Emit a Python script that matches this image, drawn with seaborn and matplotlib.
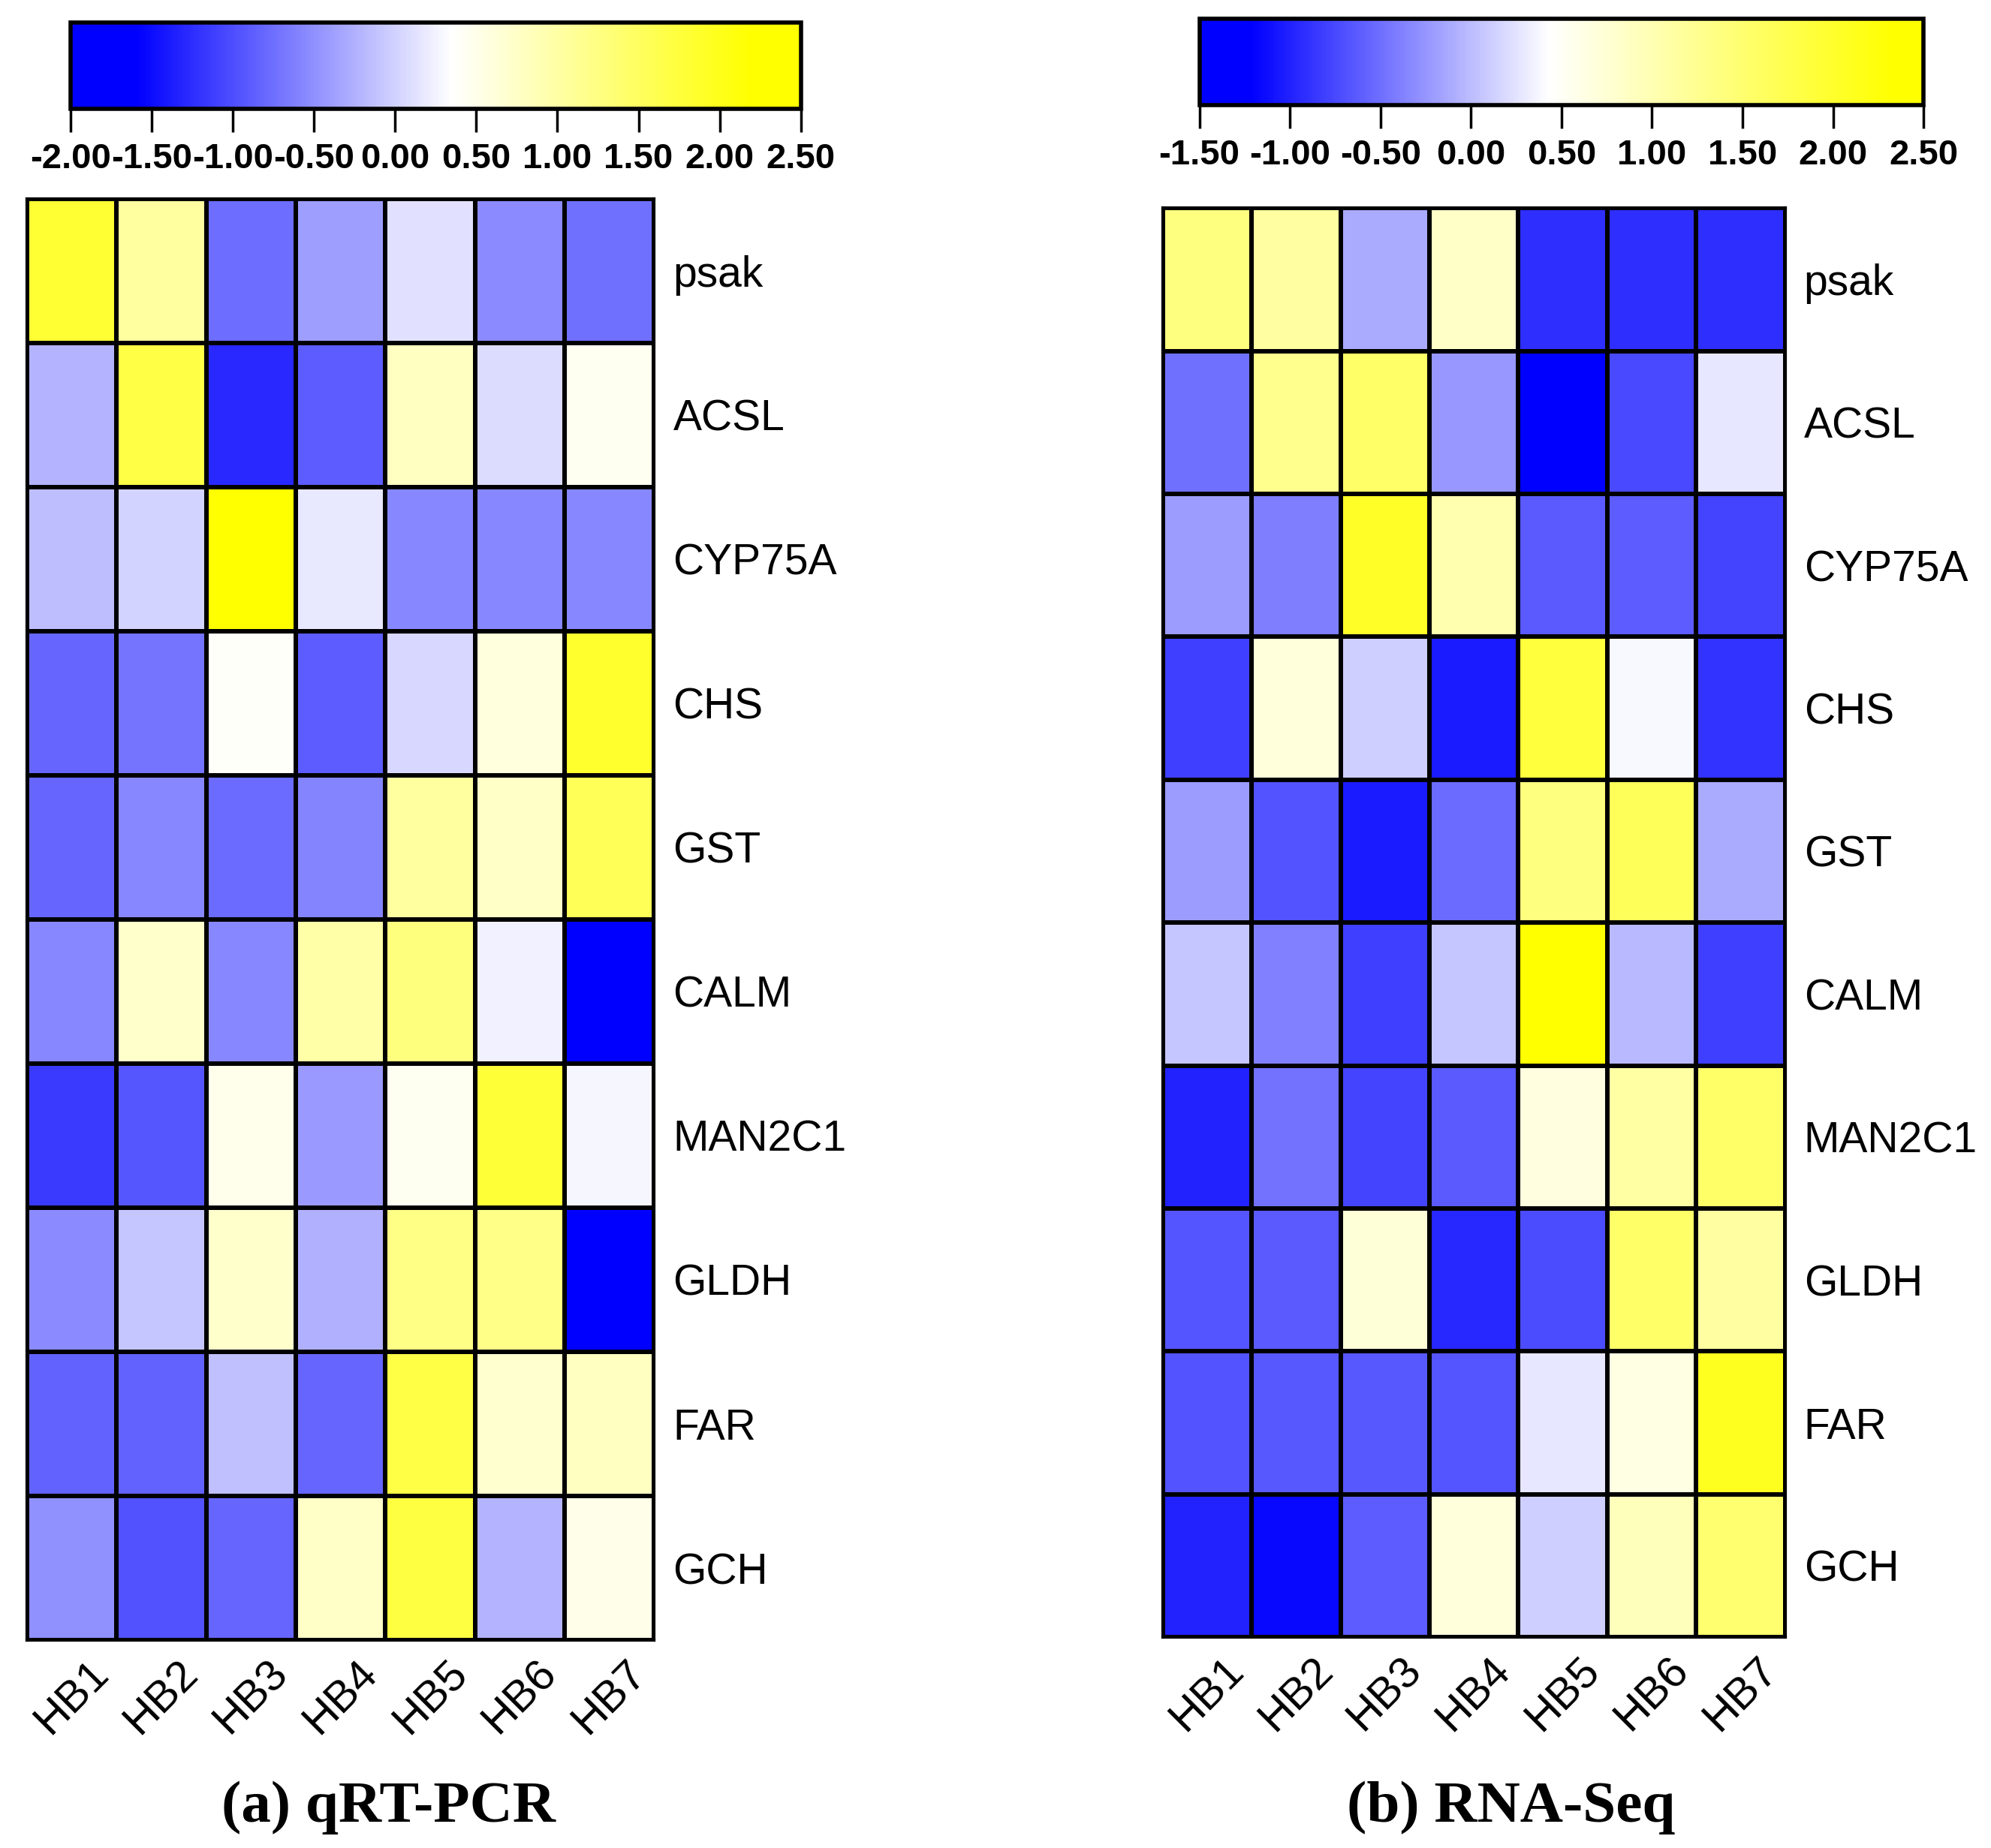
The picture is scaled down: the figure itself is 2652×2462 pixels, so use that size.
import numpy as np
import pandas as pd
import matplotlib
matplotlib.use("Agg")
import matplotlib.pyplot as plt
from matplotlib.colors import LinearSegmentedColormap
import seaborn as sns

genes = ["psak", "ACSL", "CYP75A", "CHS", "GST", "CALM", "MAN2C1", "GLDH", "FAR", "GCH"]
samples = ["HB1", "HB2", "HB3", "HB4", "HB5", "HB6", "HB7"]

# values (relative expression)
qpcr_values = [
    [1.83, 1.04, -0.76, -0.40, 0.11, -0.54, -0.74],
    [-0.23, 1.68, -1.29, -0.88, 0.78, 0.08, 0.46],
    [-0.15, 0.01, 2.30, 0.17, -0.56, -0.57, -0.56],
    [-0.82, -0.71, 0.39, -0.88, 0.04, 0.60, 1.85],
    [-0.82, -0.56, -0.77, -0.58, 1.04, 0.75, 1.56],
    [-0.56, 0.72, -0.56, 0.98, 1.27, 0.24, -1.80],
    [-1.14, -0.93, 0.48, -0.42, 0.45, 1.79, 0.27],
    [-0.54, -0.10, 0.72, -0.25, 1.22, 1.21, -1.80],
    [-0.85, -0.85, -0.13, -0.82, 1.68, 0.70, 0.78],
    [-0.50, -0.97, -0.82, 0.75, 1.71, -0.23, 0.50],
]
rnaseq_values = [
    [1.39, 1.14, -0.12, 0.85, -0.91, -0.92, -0.92],
    [-0.50, 1.27, 1.56, -0.25, -1.35, -0.75, 0.28],
    [-0.21, -0.40, 2.04, 1.02, -0.64, -0.61, -0.78],
    [-0.81, 0.70, 0.11, -1.04, 1.86, 0.38, -0.88],
    [-0.21, -0.68, -1.04, -0.52, 1.39, 1.67, -0.12],
    [0.05, -0.38, -0.81, 0.05, 2.40, -0.03, -0.81],
    [-1.00, -0.48, -0.78, -0.64, 0.66, 1.12, 1.56],
    [-0.66, -0.64, 0.72, -0.96, -0.72, 1.56, 1.14],
    [-0.68, -0.65, -0.65, -0.66, 0.28, 0.64, 2.10],
    [-1.00, -1.17, -0.61, 0.70, 0.11, 0.93, 1.50],
]

qpcr_ticks = [-2.0, -1.5, -1.0, -0.5, 0.0, 0.5, 1.0, 1.5, 2.0, 2.5]
rnaseq_ticks = [-1.5, -1.0, -0.5, 0.0, 0.5, 1.0, 1.5, 2.0, 2.5]

qpcr_cmap = LinearSegmentedColormap.from_list(
    "qpcr", [(0.0, "#0000ff"), (0.089, "#0000ff"), (0.522, "#ffffff"),
             (0.933, "#ffff00"), (1.0, "#ffff00")])
rnaseq_cmap = LinearSegmentedColormap.from_list(
    "rnaseq", [(0.0, "#0000ff"), (0.07, "#0000ff"), (0.4825, "#ffffff"),
               (0.96, "#ffff00"), (1.0, "#ffff00")])

plt.rcParams["font.family"] = ["Liberation Sans", "DejaVu Sans"]

fig = plt.figure(figsize=(26.52, 24.62), dpi=100)


def draw_panel(values, cmap, vmin, vmax, ticks, hm_rect, cb_rect, caption, cap_x):
    df = pd.DataFrame(values, index=genes, columns=samples)
    ax = fig.add_axes(hm_rect)
    cax = fig.add_axes(cb_rect)
    sns.heatmap(df, ax=ax, cmap=cmap, vmin=vmin, vmax=vmax,
                linewidths=3, linecolor="black", cbar_ax=cax,
                cbar_kws={"orientation": "horizontal", "ticks": ticks, "format": "%.2f"})
    for sp in ax.spines.values():
        sp.set_visible(True)
        sp.set_linewidth(3)
        sp.set_color("black")
    ax.yaxis.tick_right()
    ax.tick_params(axis="y", length=0, pad=18, labelsize=41, labelrotation=0)
    ax.tick_params(axis="x", length=0, pad=12, labelsize=42)
    for lbl in ax.get_xticklabels():
        lbl.set_rotation(45)
        lbl.set_ha("center")
    ax.set_xlabel("")
    ax.set_ylabel("")

    cb = ax.collections[0].colorbar
    cb.outline.set_linewidth(4)
    cb.outline.set_edgecolor("black")
    cax.tick_params(axis="x", length=22, width=2.5, pad=10, labelsize=34)
    for lbl in cax.get_xticklabels():
        lbl.set_fontweight("bold")

    fig.text(cap_x, 0.022, caption, ha="center", va="center",
             fontsize=57, fontweight="bold", family=["Liberation Serif", "DejaVu Serif"])


draw_panel(qpcr_values, qpcr_cmap, -2.0, 2.5, qpcr_ticks,
           [0.0136, 0.1125, 0.315, 0.780], [0.0355, 0.941, 0.3667, 0.0467],
           "(a) qRT-PCR", 0.195)
draw_panel(rnaseq_values, rnaseq_cmap, -1.5, 2.5, rnaseq_ticks,
           [0.584, 0.1141, 0.3126, 0.7733], [0.6024, 0.943, 0.3637, 0.0467],
           "(b) RNA-Seq", 0.759)

fig.savefig("out.png", dpi=100, facecolor="white")
